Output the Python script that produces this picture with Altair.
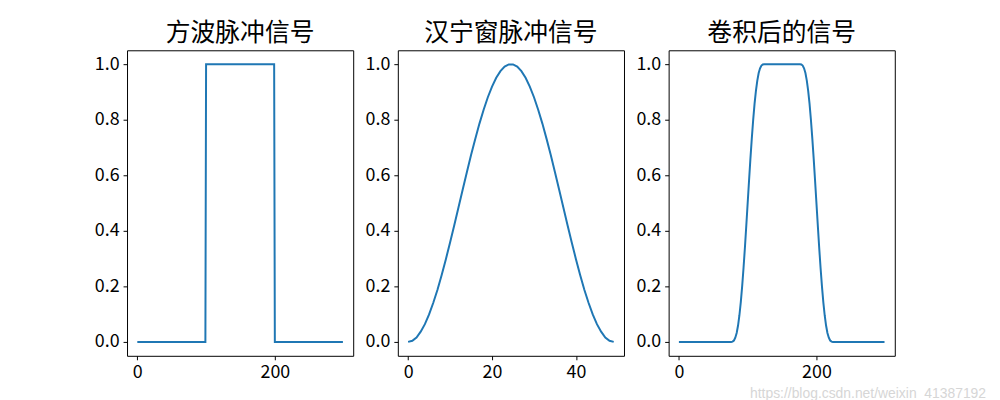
import altair as alt
import pandas as pd

# ---- data ----
square_x = [0, 99, 100, 199, 200, 299]
square_y = [0, 0, 1, 1, 0, 0]

hann_x = list(range(50))
hann_y = [0.000, 0.004, 0.016, 0.037, 0.064, 0.099, 0.141, 0.188, 0.241, 0.298,
          0.358, 0.420, 0.484, 0.548, 0.611, 0.673, 0.731, 0.786, 0.836, 0.881,
          0.919, 0.951, 0.975, 0.991, 0.999, 0.999, 0.991, 0.975, 0.951, 0.919,
          0.881, 0.836, 0.786, 0.731, 0.673, 0.611, 0.548, 0.484, 0.420, 0.358,
          0.298, 0.241, 0.188, 0.141, 0.099, 0.064, 0.037, 0.016, 0.004, 0.000]

conv_x = [0, 76, 78, 80, 82, 84, 86, 88, 90, 92, 94, 96, 98, 100, 102, 104, 106,
          108, 110, 112, 114, 116, 118, 120, 122, 124,
          176, 178, 180, 182, 184, 186, 188, 190, 192, 194, 196, 198, 200, 202,
          204, 206, 208, 210, 212, 214, 216, 218, 220, 222, 224, 299]
conv_y = [0, 0, 0.001, 0.005, 0.015, 0.032, 0.059, 0.096, 0.143, 0.201, 0.267,
          0.340, 0.419, 0.500, 0.581, 0.660, 0.733, 0.799, 0.857, 0.904, 0.941,
          0.968, 0.985, 0.995, 0.999, 1.0,
          1.0, 0.999, 0.995, 0.985, 0.968, 0.941, 0.904, 0.857, 0.799, 0.733,
          0.660, 0.581, 0.500, 0.419, 0.340, 0.267, 0.201, 0.143, 0.096, 0.059,
          0.032, 0.015, 0.005, 0.001, 0, 0]

titles = ["方波脉冲信号", "汉宁窗脉冲信号", "卷积后的信号"]
y_ticks = [0.0, 0.2, 0.4, 0.6, 0.8, 1.0]
x_ticks_long = [0, 200]
x_ticks_short = [0, 20, 40]
watermark = ["https://blog.csdn.net/weixin_41387192"]

FONT = "Noto Sans CJK SC"
BLUE = "#1f77b4"
W, H = 228, 308


def panel(xs, ys, title, xdom, xticks):
    df = pd.DataFrame({"x": xs, "y": ys})
    return (
        alt.Chart(df)
        .mark_line(color=BLUE, strokeWidth=2)
        .encode(
            x=alt.X("x:Q", scale=alt.Scale(domain=xdom, nice=False, zero=False),
                    axis=alt.Axis(values=xticks, title=None, grid=False, domain=False,
                                  tickColor="black", tickSize=4, labelPadding=4,
                                  labelFont=FONT, labelFontSize=18, labelColor="black",
                                  format="d")),
            y=alt.Y("y:Q", scale=alt.Scale(domain=[-0.05, 1.05], nice=False, zero=False),
                    axis=alt.Axis(values=y_ticks, title=None, grid=False, domain=False,
                                  tickColor="black", tickSize=4, labelPadding=4,
                                  labelFont=FONT, labelFontSize=18, labelColor="black",
                                  format=".1f")),
        )
        .properties(width=W, height=H,
                    title=alt.TitleParams(title, font=FONT, fontSize=25,
                                          fontWeight="normal", color="black", offset=4))
    )


p1 = panel(square_x, square_y, titles[0], [-14.95, 313.95], x_ticks_long)
p2 = panel(hann_x, hann_y, titles[1], [-2.45, 51.45], x_ticks_short)
p3 = panel(conv_x, conv_y, titles[2], [-14.95, 313.95], x_ticks_long)

wm = (
    alt.Chart(pd.DataFrame({"t": watermark}))
    .mark_text(font="Liberation Sans", fontSize=14, color="#d6d6d6", align="right",
               baseline="middle")
    .encode(text="t:N", x=alt.value(320), y=alt.value(347))
)
p3 = alt.layer(p3, wm)

chart = (
    alt.hconcat(p1, p2, p3, spacing=45, bounds="flush")
    .properties(padding={"left": 86, "top": 11, "right": 5, "bottom": 5})
    .configure(background="white")
    .configure_view(stroke="black", strokeWidth=1)
)

chart.save("out.html", embed_options={"renderer": "svg", "actions": False})
